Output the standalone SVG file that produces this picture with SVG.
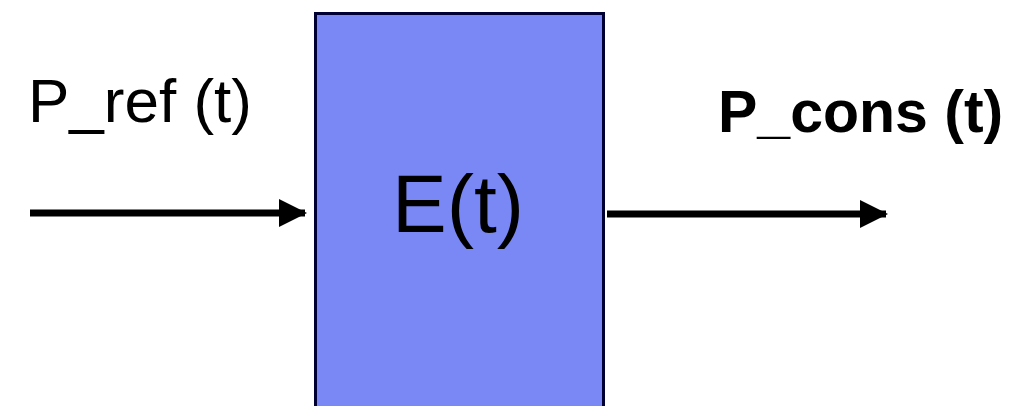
<svg xmlns="http://www.w3.org/2000/svg" width="1025" height="406" viewBox="0 0 1025 406">
<style>
.lbl{font-family:"Liberation Sans",Arial,sans-serif;fill:#000}
.conn{stroke:#000;stroke-width:7;fill:none}
</style>
<defs>
<marker id="ah" markerUnits="userSpaceOnUse" markerWidth="28" markerHeight="30" refX="26" refY="15" orient="auto"><path d="M0,1 L28,15 L0,29 Z" fill="#000"/></marker>
</defs>
<rect width="1025" height="406" fill="#fff"/>
<g id="block">
<rect x="315.5" y="13.5" width="288" height="400" fill="#7a88f6" stroke="#000033" stroke-width="3"/>
<text class="lbl" x="458" y="232" font-size="82" text-anchor="middle" fill="#000022">E(t)</text>
</g>
<g id="label-in"><text class="lbl" x="28" y="122" font-size="62">P_ref (t)</text></g>
<g id="label-out"><text class="lbl" x="718" y="132" font-size="59" font-weight="bold">P_cons (t)</text></g>
<g id="connectors">
<line class="conn" x1="30" y1="213" x2="305" y2="213" marker-end="url(#ah)"/>
<line class="conn" x1="607" y1="214" x2="886" y2="214" marker-end="url(#ah)"/>
</g>
</svg>
